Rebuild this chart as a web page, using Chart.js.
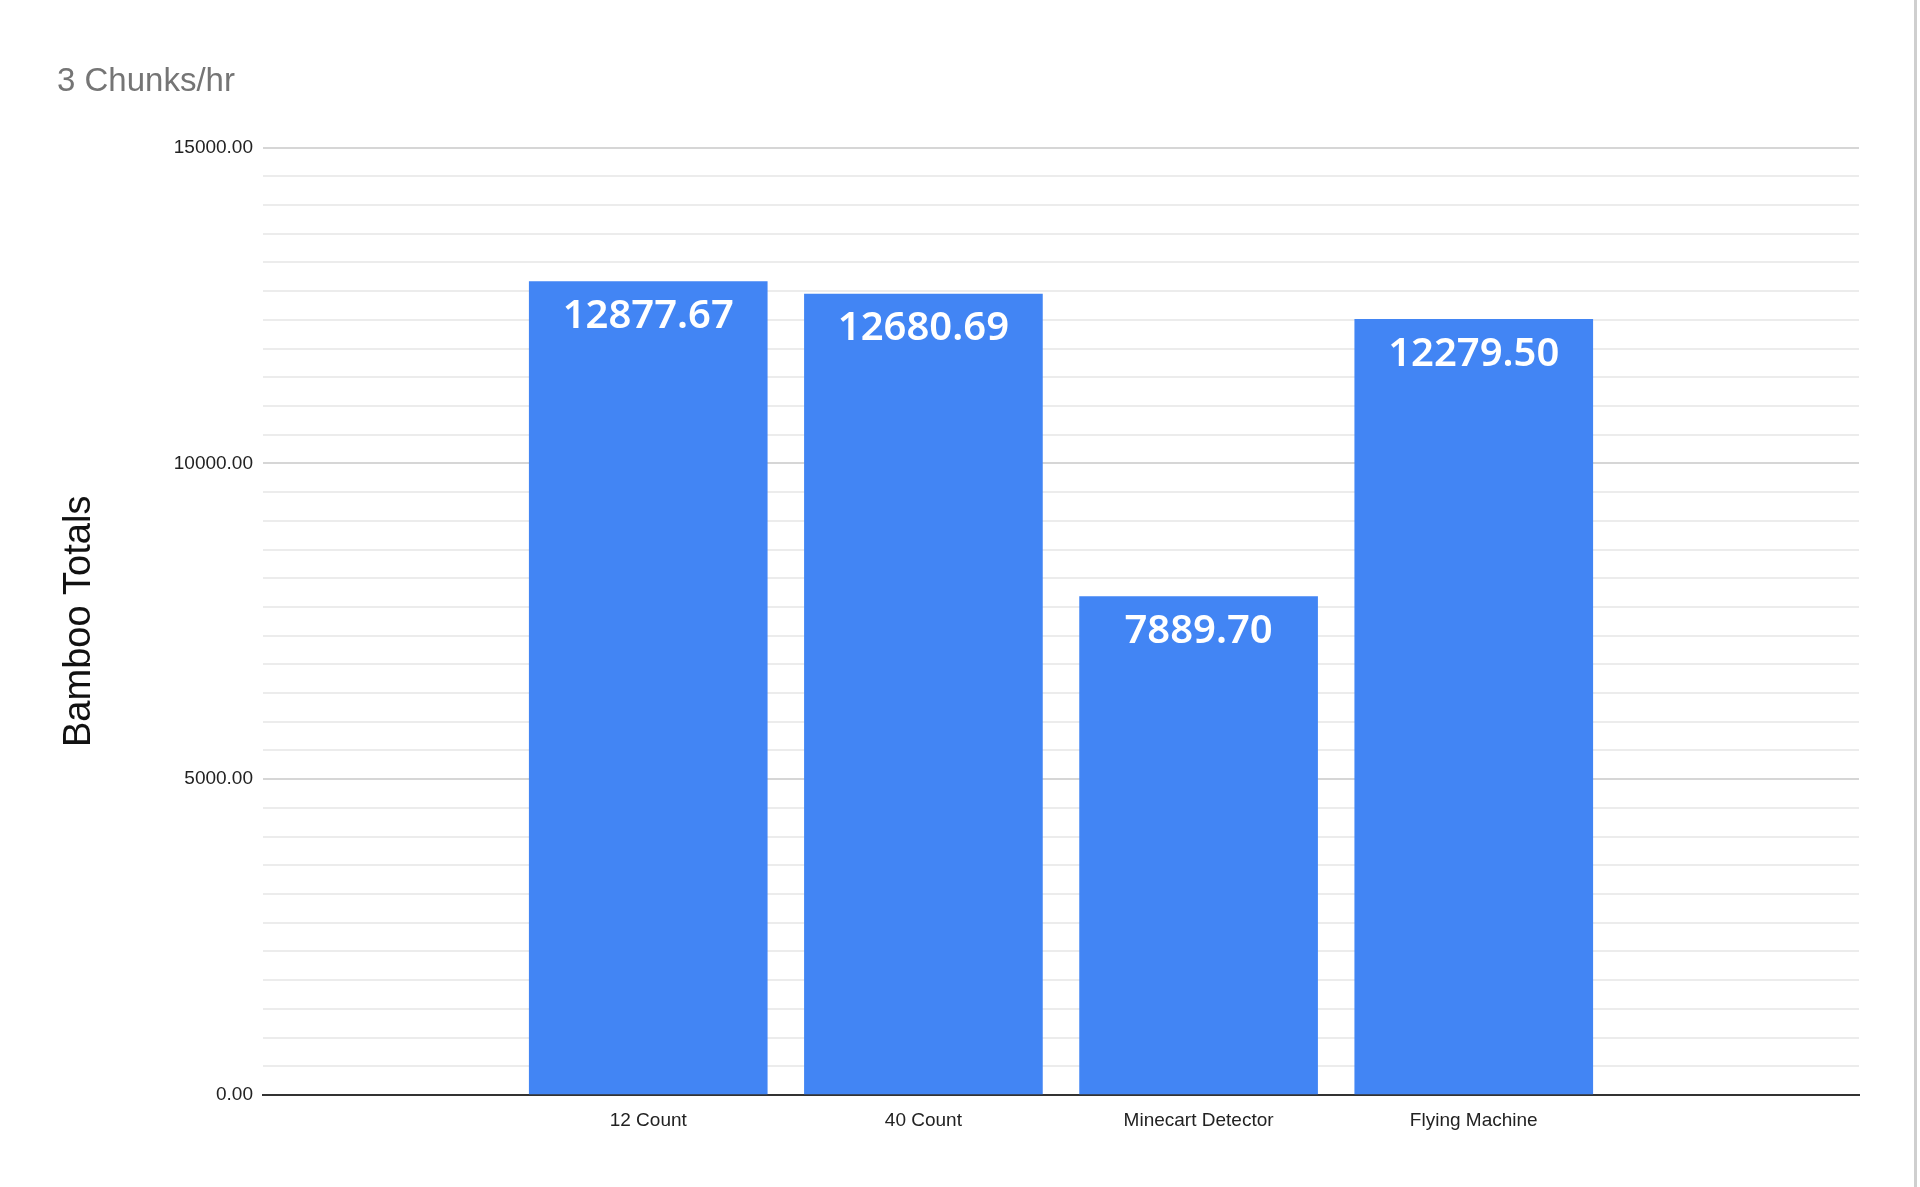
<!DOCTYPE html>
<html><head><meta charset="utf-8">
<script src="https://cdn.jsdelivr.net/npm/chart.js@4"></script>
<style>
html,body{margin:0;background:#fff;}
#wrap{position:relative;width:1920px;height:1187px;}
#edge{position:absolute;left:1914px;top:0;width:3px;height:1187px;background:#cfcfcf;}
</style></head>
<body><div id="wrap"><canvas id="c" width="1920" height="1187"></canvas><div id="edge"></div></div>
<script>
// Data
const categories = ['12 Count', '40 Count', 'Minecart Detector', 'Flying Machine'];
const bambooTotals = [12877.67, 12680.69, 7889.70, 12279.50];
const yMax = 15000;
const majorStep = 5000;
const minorPerMajor = 11;

const points = bambooTotals.map((v, i) => ({ x: i, y: v }));

const labelPlugin = {
    id: 'barLabels',
    afterDatasetsDraw(chart) {
        const ctx = chart.ctx;
        const meta = chart.getDatasetMeta(0);
        ctx.save();
        ctx.fillStyle = '#ffffff';
        ctx.font = '600 40px "Noto Sans"';
        ctx.textAlign = 'center';
        ctx.textBaseline = 'middle';
        meta.data.forEach((bar, i) => {
            ctx.fillText(bambooTotals[i].toFixed(2), bar.x, bar.y + 35);
        });
        ctx.restore();
    }
};

new Chart(document.getElementById('c'), {
    type: 'bar',
    data: {
        datasets: [{
            data: points,
            backgroundColor: '#4285f4',
            barThickness: 238
        }]
    },
    options: {
        responsive: false,
        animation: false,
        layout: { padding: { top: 24, right: 61, bottom: 0, left: 57 } },
        plugins: {
            legend: { display: false },
            tooltip: { enabled: false },
            title: {
                display: true, text: '3 Chunks/hr', align: 'start',
                color: '#757575', font: { family: 'Arial, "Liberation Sans"', size: 33, weight: 'normal' },
                padding: { top: 38, bottom: 46 }
            }
        },
        scales: {
            x: {
                type: 'linear',
                min: -0.675, max: 3.675,
                afterBuildTicks: s => { s.ticks = categories.map((c, i) => ({ value: i })); },
                grid: { display: false },
                border: { color: '#333', width: 2 },
                ticks: {
                    color: '#222', font: { family: 'Arial, "Liberation Sans"', size: 19 }, padding: 6,
                    callback: v => categories[v] ?? ''
                },
                afterFit: s => { s.height = 92; }
            },
            y: {
                min: 0, max: yMax,
                afterBuildTicks: s => {
                    const t = [];
                    const n = (yMax / majorStep) * minorPerMajor;
                    for (let i = 0; i <= n; i++) t.push({ value: i * majorStep / minorPerMajor });
                    s.ticks = t;
                },
                grid: {
                    color: c => (c.index % minorPerMajor === 0) ? '#d6d6d6' : '#ececec',
                    lineWidth: 2, drawTicks: false
                },
                border: { display: false },
                ticks: {
                    autoSkip: false, padding: 10, color: '#222',
                    font: { family: 'Arial, "Liberation Sans"', size: 19 },
                    callback: (v, i) => (i % minorPerMajor === 0) ? Number(v).toFixed(2) : ''
                },
                title: {
                    display: true, text: 'Bamboo Totals', color: '#111',
                    font: { family: 'Arial, "Liberation Sans"', size: 38 },
                    padding: { top: 0, bottom: 0 }
                },
                afterFit: s => { s.width = 206; }
            }
        }
    },
    plugins: [labelPlugin]
});
</script></body></html>
